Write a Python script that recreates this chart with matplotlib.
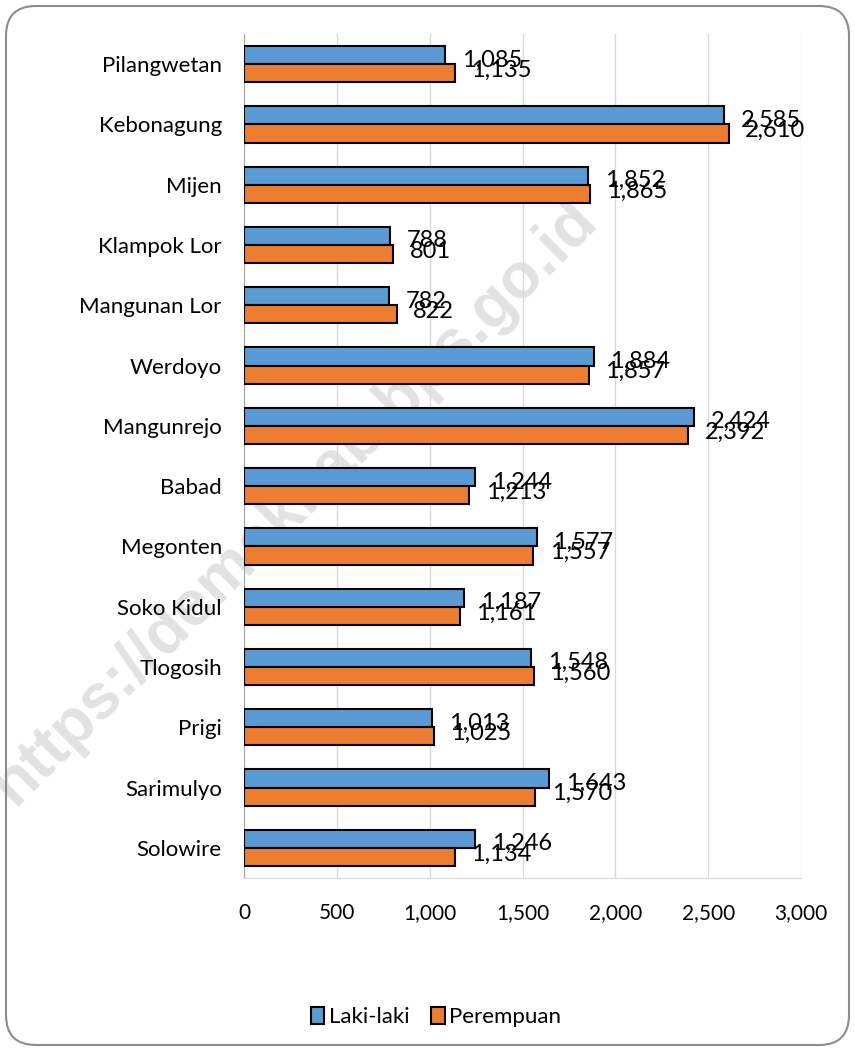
import matplotlib.pyplot as plt
from matplotlib.patches import FancyBboxPatch
import numpy as np

# population by village and sex
villages = ['Pilangwetan', 'Kebonagung', 'Mijen', 'Klampok Lor', 'Mangunan Lor',
            'Werdoyo', 'Mangunrejo', 'Babad', 'Megonten', 'Soko Kidul',
            'Tlogosih', 'Prigi', 'Sarimulyo', 'Solowire']
laki = [1085, 2585, 1852, 788, 782, 1884, 2424, 1244, 1577, 1187, 1548, 1013, 1643, 1246]
perempuan = [1135, 2610, 1865, 801, 822, 1857, 2392, 1213, 1557, 1161, 1560, 1025, 1570, 1134]
xticks = [0, 500, 1000, 1500, 2000, 2500, 3000]

plt.rcParams['font.family'] = ['Lato', 'DejaVu Sans']

fig = plt.figure(figsize=(8.55, 10.51), dpi=100)

# rounded frame around the whole chart
frame = FancyBboxPatch((6/855, 6/1051), 843/855, 1039/1051,
                       boxstyle='round,pad=0,rounding_size=0.035',
                       transform=fig.transFigure, fill=False,
                       edgecolor='#8c8c8c', linewidth=1.5,
                       mutation_aspect=855/1051)
fig.patches.append(frame)

# watermark, behind the axes
fig.text(0.345, 0.522, 'https://demakkab.bps.go.id', rotation=45,
         ha='center', va='center', fontsize=46, fontweight='bold',
         family='Liberation Sans', color='#e2e2e2', zorder=-1)

ax = fig.add_axes([244/855, 1 - 878/1051, 557/855, 844/1051])
ax.set_facecolor('none')

y = np.arange(len(villages))
h = 0.3
ax.barh(y - h/2, laki, height=h, color='#5b9bd5', edgecolor='black',
        linewidth=1.5, label='Laki-laki', zorder=3)
ax.barh(y + h/2, perempuan, height=h, color='#ed7d31', edgecolor='black',
        linewidth=1.5, label='Perempuan', zorder=3)

for i in range(len(villages)):
    ax.annotate(f'{laki[i]:,}', (laki[i], y[i] - h/2), xytext=(12, -3.5),
                textcoords='offset points', ha='left', va='center', fontsize=17)
    ax.annotate(f'{perempuan[i]:,}', (perempuan[i], y[i] + h/2), xytext=(12, 2),
                textcoords='offset points', ha='left', va='center', fontsize=17)

ax.set_ylim(len(villages) - 0.5, -0.5)
ax.set_xlim(0, 3000)
ax.set_yticks(y)
ax.set_yticklabels(villages)
ax.set_xticks(xticks)
ax.set_xticklabels([f'{v:,}' for v in xticks])
ax.tick_params(axis='y', length=0, pad=16, labelsize=16)
ax.tick_params(axis='x', length=0, pad=18, labelsize=15)
ax.grid(axis='x', color='#d9d9d9', linewidth=1, zorder=0)
for s in ['top', 'right']:
    ax.spines[s].set_visible(False)
ax.spines['left'].set_color('#a6a6a6')
ax.spines['bottom'].set_color('#d9d9d9')

ax.legend(loc='center', bbox_to_anchor=(436/855, 34/1051),
          bbox_transform=fig.transFigure, ncol=2, frameon=False,
          fontsize=16, handlelength=0.6, handleheight=0.8,
          handletextpad=0.2, columnspacing=1.0)

fig.savefig('out.png', dpi=100)
